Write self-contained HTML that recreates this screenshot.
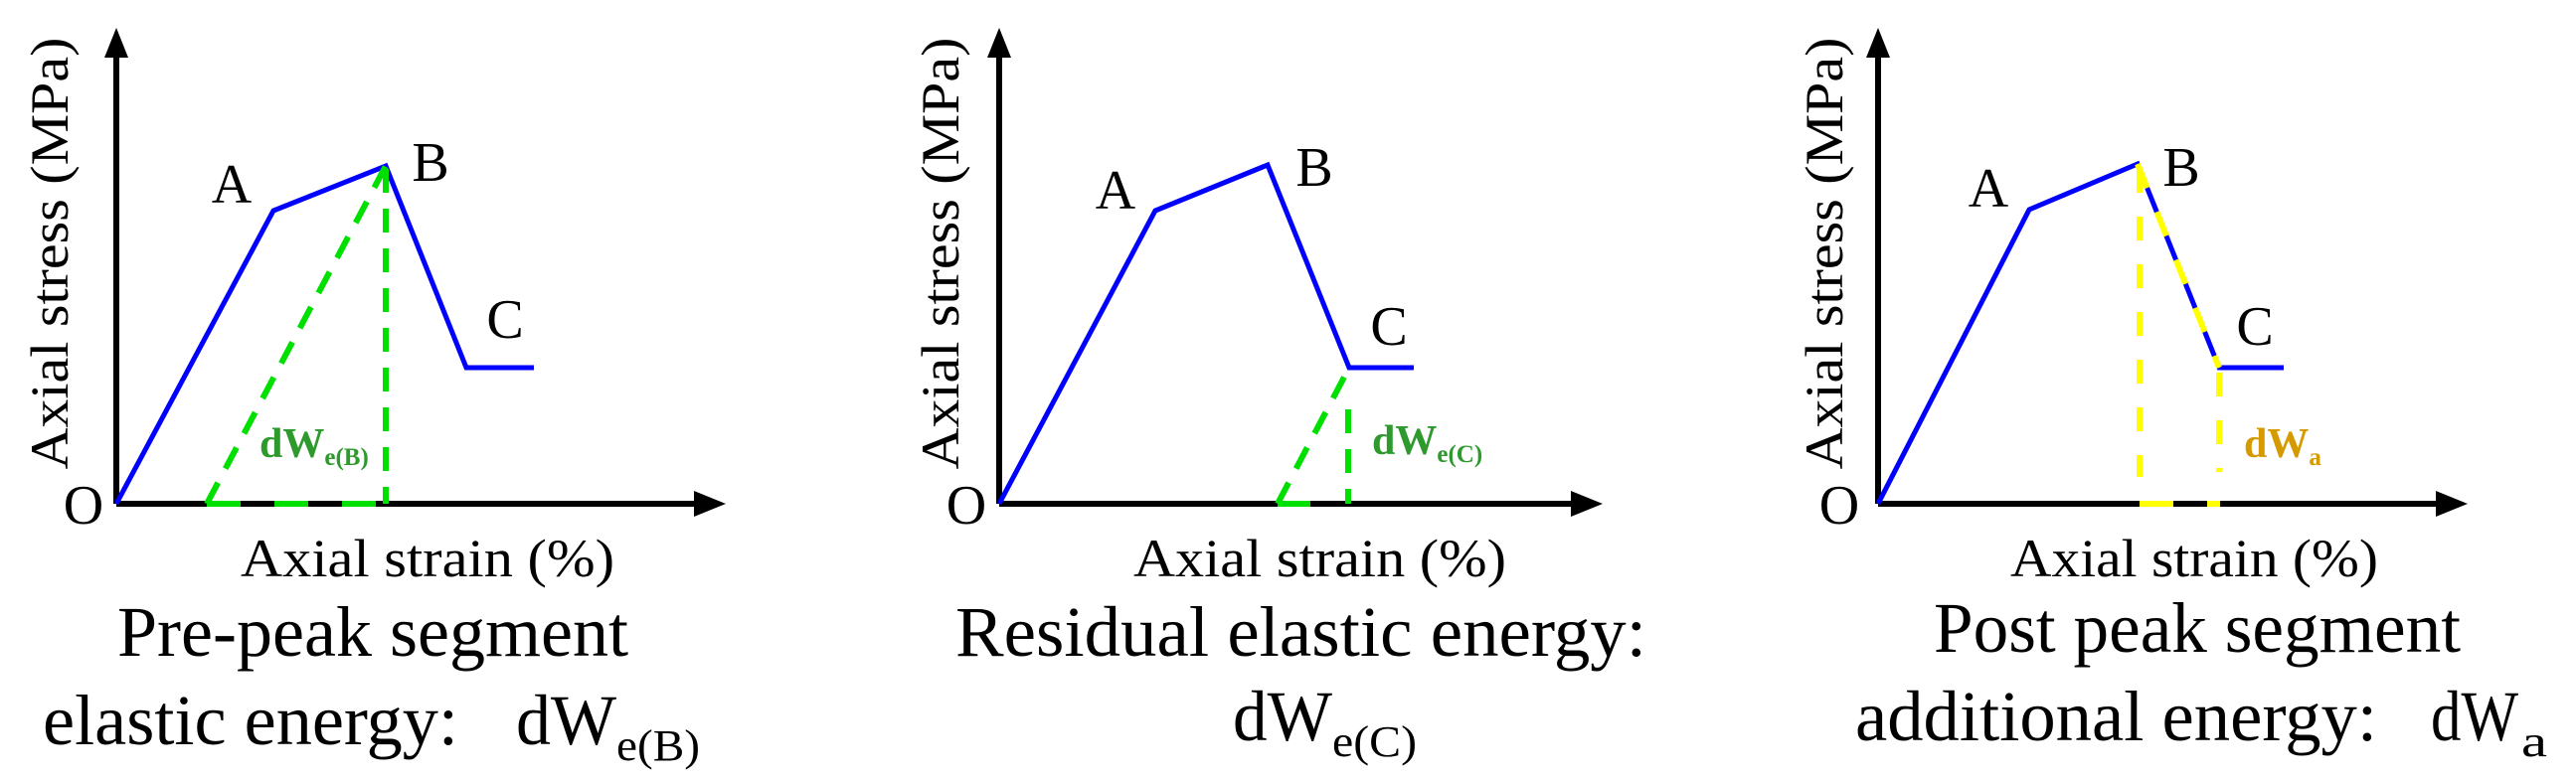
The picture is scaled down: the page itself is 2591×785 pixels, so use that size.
<!DOCTYPE html>
<html><head><meta charset="utf-8"><style>
html,body{margin:0;padding:0;background:#fff;}
svg{display:block;}
text{font-family:"Liberation Serif",serif;}
</style></head><body>
<svg width="2591" height="785" viewBox="0 0 2591 785" xmlns="http://www.w3.org/2000/svg">
<g stroke-linecap="butt" fill="none">
<!-- Panel 1 -->
<path d="M117,507 L117,52" stroke="#000" stroke-width="6"/>
<path d="M105,58 L117,28 L129,58 z" fill="#000"/>
<path d="M117,507 L703,507" stroke="#000" stroke-width="6"/>
<path d="M698,494 L730,507 L698,520 z" fill="#000"/>
<polyline points="117,507 275,212 388,167 469,370 537,370" stroke="#0000ff" stroke-width="5"/>
<path d="M208,507 L388,167" stroke="#00e000" stroke-width="6" stroke-dasharray="24,16"/>
<path d="M388,170 L388,507" stroke="#00e000" stroke-width="6" stroke-dasharray="24,16"/>
<path d="M208,507 L388,507" stroke="#00e000" stroke-width="6" stroke-dasharray="34,34"/>
<!-- Panel 2 -->
<path d="M1005,507 L1005,52" stroke="#000" stroke-width="6"/>
<path d="M993,58 L1005,28 L1017,58 z" fill="#000"/>
<path d="M1005,507 L1585,507" stroke="#000" stroke-width="6"/>
<path d="M1580,494 L1612,507 L1580,520 z" fill="#000"/>
<polyline points="1005,507 1162,212 1275,166 1357,370 1422,370" stroke="#0000ff" stroke-width="5"/>
<path d="M1285,507 L1357,370" stroke="#00e000" stroke-width="6" stroke-dasharray="24,16"/>
<path d="M1356,412 L1356,507" stroke="#00e000" stroke-width="6" stroke-dasharray="24,16"/>
<path d="M1285,507 L1318,507" stroke="#00e000" stroke-width="6"/>
<!-- Panel 3 -->
<path d="M1889,507 L1889,52" stroke="#000" stroke-width="6"/>
<path d="M1877,58 L1889,28 L1901,58 z" fill="#000"/>
<path d="M1889,507 L2455,507" stroke="#000" stroke-width="6"/>
<path d="M2450,494 L2482,507 L2450,520 z" fill="#000"/>
<polyline points="1889,507 2041,211 2150,165 2232,370 2297,370" stroke="#0000ff" stroke-width="5"/>
<path d="M2150,165 L2232,370" stroke="#ffff00" stroke-width="6" stroke-dasharray="26,26"/>
<path d="M2152,170 L2152,480" stroke="#ffff00" stroke-width="6" stroke-dasharray="24,24"/>
<path d="M2232,375 L2232,475" stroke="#ffff00" stroke-width="6" stroke-dasharray="24,24"/>
<path d="M2152,507 L2186,507 M2220,507 L2233,507" stroke="#ffff00" stroke-width="6"/>
</g>
<g fill="#000" font-size="56">
<text x="233" y="204" text-anchor="middle">A</text>
<text x="433" y="182" text-anchor="middle">B</text>
<text x="508" y="340" text-anchor="middle">C</text>
<text x="84" y="527" text-anchor="middle">O</text>
<text x="1122" y="210" text-anchor="middle">A</text>
<text x="1322" y="187" text-anchor="middle">B</text>
<text x="1397" y="347" text-anchor="middle">C</text>
<text x="972" y="527" text-anchor="middle">O</text>
<text x="2000" y="208" text-anchor="middle">A</text>
<text x="2194" y="187" text-anchor="middle">B</text>
<text x="2268" y="347" text-anchor="middle">C</text>
<text x="1850" y="527" text-anchor="middle">O</text>
</g>
<g font-size="54" fill="#000">
<text transform="translate(68,255) rotate(-90)" text-anchor="middle" textLength="435" lengthAdjust="spacingAndGlyphs">Axial stress (MPa)</text>
<text transform="translate(964,255) rotate(-90)" text-anchor="middle" textLength="435" lengthAdjust="spacingAndGlyphs">Axial stress (MPa)</text>
<text transform="translate(1853,255) rotate(-90)" text-anchor="middle" textLength="435" lengthAdjust="spacingAndGlyphs">Axial stress (MPa)</text>
<text x="242" y="580" textLength="376" lengthAdjust="spacingAndGlyphs">Axial strain (%)</text>
<text x="1140" y="580" textLength="375" lengthAdjust="spacingAndGlyphs">Axial strain (%)</text>
<text x="2022" y="580" textLength="370" lengthAdjust="spacingAndGlyphs">Axial strain (%)</text>
</g>
<g font-weight="bold">
<text x="261" y="460" font-size="42" fill="#2e9a2e">dW<tspan font-size="25" dy="8">e(B)</tspan></text>
<text x="1380" y="457" font-size="42" fill="#2e9a2e">dW<tspan font-size="25" dy="8">e(C)</tspan></text>
<text x="2257" y="460" font-size="42" fill="#d49a00">dW<tspan font-size="25" dy="8">a</tspan></text>
</g>
<g font-size="72" fill="#000">
<text x="118" y="660" textLength="514" lengthAdjust="spacingAndGlyphs">Pre-peak segment</text>
<text x="43" y="749" textLength="418" lengthAdjust="spacingAndGlyphs">elastic energy:</text>
<text x="519" y="749" textLength="101" lengthAdjust="spacingAndGlyphs">dW</text>
<text x="620" y="765" font-size="44" textLength="84" lengthAdjust="spacingAndGlyphs">e(B)</text>
<text x="961" y="660" textLength="695" lengthAdjust="spacingAndGlyphs">Residual elastic energy:</text>
<text x="1240" y="745" textLength="100" lengthAdjust="spacingAndGlyphs">dW</text>
<text x="1340" y="761" font-size="44" textLength="85" lengthAdjust="spacingAndGlyphs">e(C)</text>
<text x="1945" y="656" textLength="530" lengthAdjust="spacingAndGlyphs">Post peak segment</text>
<text x="1866" y="745" textLength="525" lengthAdjust="spacingAndGlyphs">additional energy:</text>
<text x="2445" y="745" textLength="88" lengthAdjust="spacingAndGlyphs">dW</text>
<text x="2536" y="761" font-size="44" textLength="26" lengthAdjust="spacingAndGlyphs">a</text>
</g>
</svg>
</body></html>
